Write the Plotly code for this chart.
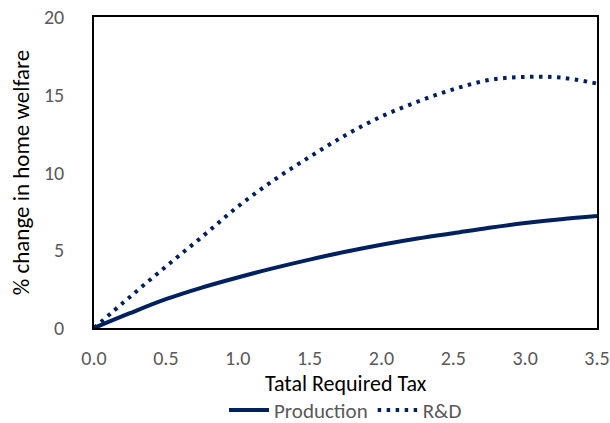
import plotly.graph_objects as go

tax = [0, 0.25, 0.5, 0.75, 1.0, 1.25, 1.5, 1.75, 2.0, 2.25, 2.5, 2.75, 3.0, 3.25, 3.5]
production = [0, 0.95, 1.85, 2.6, 3.25, 3.85, 4.4, 4.9, 5.35, 5.75, 6.1, 6.45, 6.75, 7.0, 7.2]
rnd = [0, 2.0, 3.95, 5.85, 7.8, 9.5, 11.0, 12.4, 13.6, 14.55, 15.35, 15.95, 16.15, 16.1, 15.72]
x_title = "Tatal Required Tax"
y_title = "% change in home welfare"

navy = "#002060"
font_family = "Carlito, Lato, 'Open Sans', sans-serif"

fig = go.Figure()
fig.add_trace(go.Scatter(x=tax, y=production, mode="lines", name="Production",
                         line=dict(color=navy, width=4, shape="spline")))
fig.add_trace(go.Scatter(x=tax, y=rnd, mode="lines", name="R&D",
                         line=dict(color=navy, width=4, dash="3.5px,5.5px", shape="spline")))

fig.update_layout(
    width=610, height=423,
    margin=dict(l=94, r=13, t=17, b=95, autoexpand=False),
    paper_bgcolor="white", plot_bgcolor="white",
    font=dict(family=font_family, size=20, color="#595959"),
    showlegend=True,
    legend=dict(orientation="h", x=0.5, xanchor="center", xref="paper",
                y=0.030, yanchor="middle", yref="container",
                font=dict(size=21, color="#595959"), itemwidth=40,
                tracegroupgap=0),
    xaxis=dict(range=[0, 3.5], dtick=0.5, tick0=0, tickformat=".1f",
               showgrid=False, zeroline=False, showline=True, mirror=True,
               linecolor="black", linewidth=1.5, ticks="", ticklabelstandoff=11,
               automargin=False, ticklabeloverflow="allow"),
    yaxis=dict(range=[0, 20], dtick=5, tick0=0,
               showgrid=False, zeroline=False, showline=True, mirror=True,
               linecolor="black", linewidth=1.5, ticks="", ticklabelstandoff=24,
               automargin=False, ticklabeloverflow="allow",
               title=dict(text=y_title, font=dict(color="black", size=23),
                          standoff=8)),
    annotations=[dict(text=x_title, x=0.5, xref="paper", y=-0.18, yref="paper",
                      xanchor="center", yanchor="middle", showarrow=False,
                      font=dict(color="black", size=22, family=font_family))],
)

fig.write_html("out.html", config={"displayModeBar": False},
               post_script="document.body.style.margin='0';")
